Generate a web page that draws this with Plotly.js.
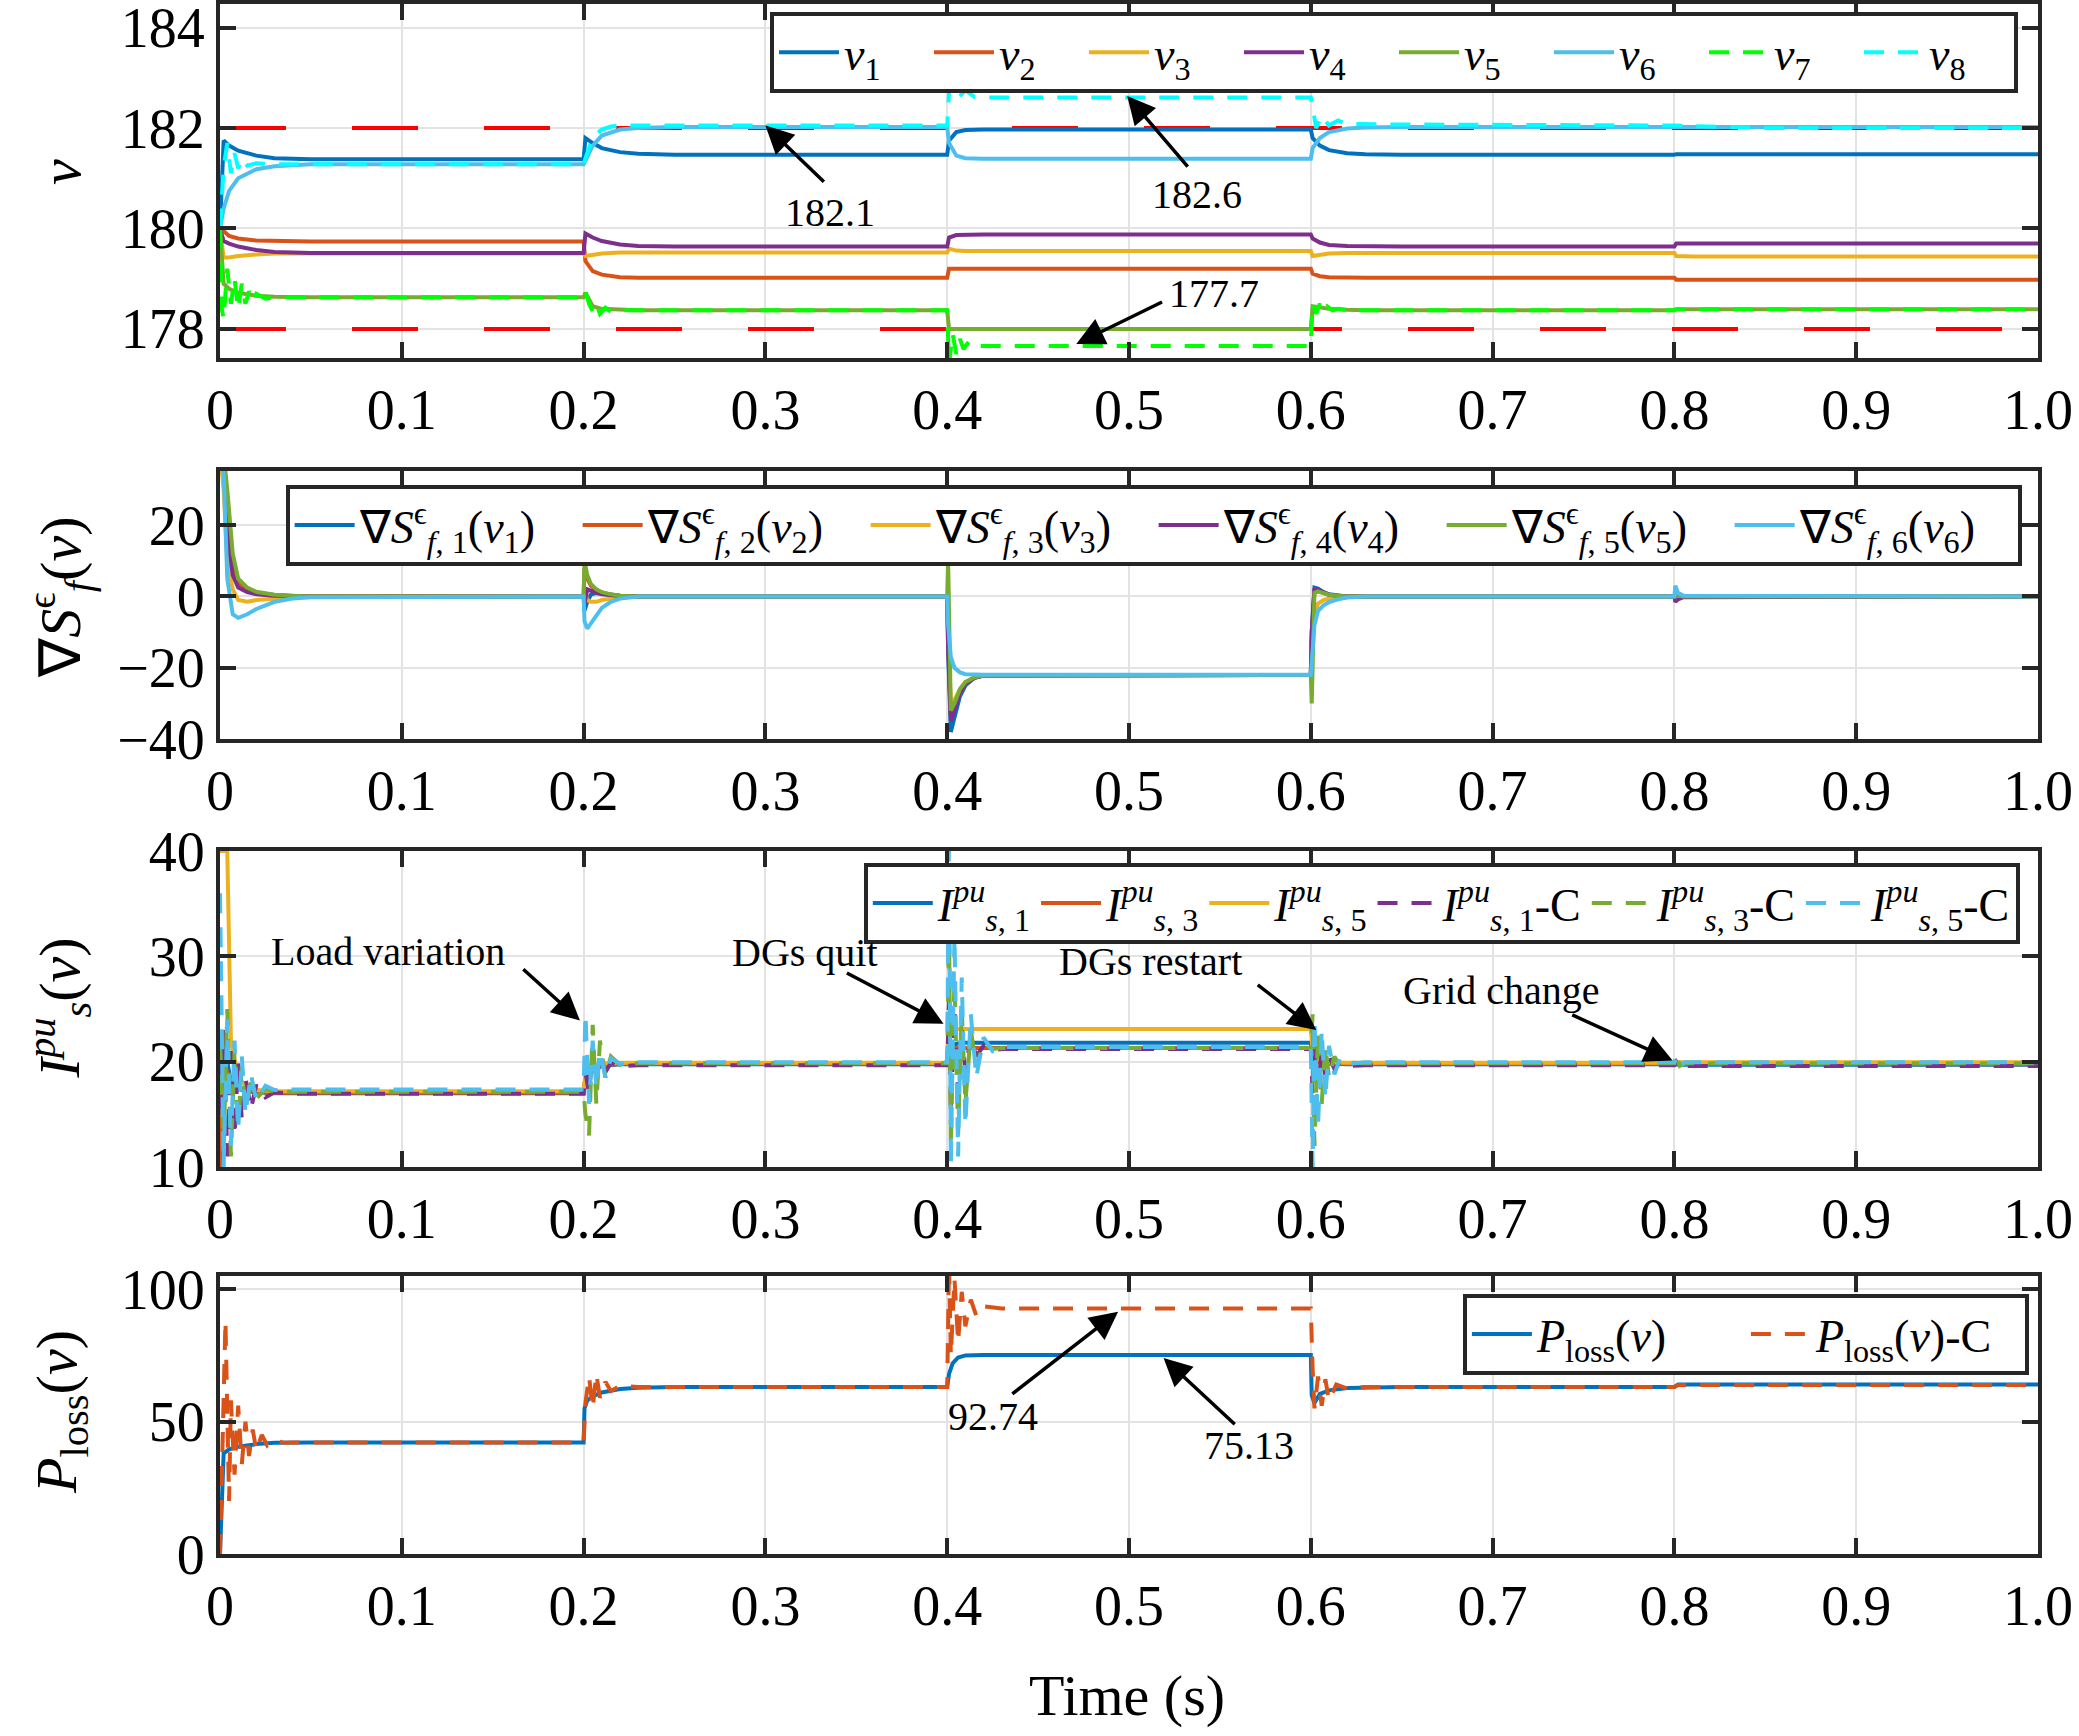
<!DOCTYPE html>
<html>
<head>
<meta charset="utf-8">
<script src="https://cdn.plot.ly/plotly-3.0.1.min.js"></script>
<style>
  html, body { margin: 0; padding: 0; background: #ffffff; }
  #chart { width: 2079px; height: 1736px; }
</style>
</head>
<body>
<div id="chart"></div>
<script>
// Time axis ticks (shared by all four panels)
var timeTicks = [0, 0.1, 0.2, 0.3, 0.4, 0.5, 0.6, 0.7, 0.8, 0.9, 1.0];
var timeTickText = ["0", "0.1", "0.2", "0.3", "0.4", "0.5", "0.6", "0.7", "0.8", "0.9", "1.0"];

// ---- Panel 1: voltages v ----
var vTicks = [178, 180, 182, 184];
var vLimits = [178, 182];
var vTime = [0, 0.002, 0.005, 0.01, 0.02, 0.03, 0.05, 0.2, 0.201, 0.205, 0.21, 0.22, 0.23, 0.25,
    0.4, 0.401, 0.405, 0.41, 0.42, 0.6, 0.601, 0.605, 0.61, 0.62, 0.63, 0.65, 0.8, 0.801, 0.81, 1.0];
var v1 = [180, 181.75, 181.65, 181.55, 181.45, 181.4, 181.38, 181.38, 181.8, 181.7, 181.6, 181.52, 181.49, 181.47,
    181.47, 181.75, 181.92, 181.96, 181.97, 181.97, 181.8, 181.65, 181.56, 181.5, 181.48, 181.47, 181.47, 181.48, 181.48, 181.48];
var v2 = [180, 179.95, 179.85, 179.8, 179.76, 179.75, 179.74, 179.74, 179.35, 179.15, 179.08, 179.03, 179.02, 179.02,
    179.02, 179.2, 179.2, 179.2, 179.2, 179.2, 179.1, 179.05, 179.03, 179.02, 179.02, 179.02, 179.02, 178.98, 178.98, 178.98];
var v3 = [180, 179.42, 179.42, 179.45, 179.48, 179.5, 179.5, 179.5, 179.45, 179.48, 179.5, 179.52, 179.52, 179.52,
    179.52, 179.6, 179.56, 179.55, 179.55, 179.55, 179.45, 179.48, 179.5, 179.51, 179.51, 179.51, 179.51, 179.45, 179.44, 179.44];
var v4 = [180, 179.75, 179.7, 179.64, 179.57, 179.53, 179.51, 179.51, 179.9, 179.82, 179.75, 179.68, 179.65, 179.64,
    179.64, 179.82, 179.87, 179.88, 179.88, 179.88, 179.8, 179.72, 179.67, 179.65, 179.64, 179.64, 179.64, 179.7, 179.7, 179.7];
var v5 = [180, 178.9, 178.8, 178.72, 178.66, 178.64, 178.63, 178.63, 178.72, 178.45, 178.4, 178.38, 178.37, 178.37,
    178.37, 178.0, 178.0, 178.0, 178.0, 178.0, 178.45, 178.42, 178.4, 178.38, 178.37, 178.37, 178.37, 178.39, 178.39, 178.39];
var v6 = [180, 180.4, 180.75, 181.0, 181.18, 181.24, 181.28, 181.28, 181.35, 181.65, 181.85, 181.97, 182.0, 182.02,
    182.02, 181.7, 181.45, 181.4, 181.39, 181.39, 181.6, 181.8, 181.92, 181.99, 182.01, 182.02, 182.02, 182.02, 182.02, 182.02];
var v7Time = [0, 0.001, 0.002, 0.004, 0.006, 0.008, 0.010, 0.012, 0.014, 0.016, 0.018, 0.02, 0.025, 0.03,
    0.2, 0.201, 0.203, 0.205, 0.207, 0.209, 0.212, 0.215, 0.22, 0.25,
    0.4, 0.401, 0.403, 0.405, 0.407, 0.409, 0.412, 0.415, 0.42,
    0.6, 0.601, 0.603, 0.605, 0.607, 0.609, 0.612, 0.615, 0.62, 0.65, 0.8, 0.801, 1.0];
var v7 = [180, 178.4, 178.2, 179.2, 178.5, 179.0, 178.4, 178.9, 178.5, 178.75, 178.55, 178.7, 178.6, 178.63,
    178.63, 178.75, 178.5, 178.35, 178.5, 178.3, 178.42, 178.34, 178.37, 178.37,
    178.37, 177.3, 177.9, 177.5, 177.8, 177.6, 177.75, 177.66, 177.66,
    177.66, 178.5, 178.3, 178.5, 178.35, 178.45, 178.37, 178.4, 178.37, 178.37, 178.37, 178.39, 178.39];
var v8Time = [0, 0.002, 0.004, 0.006, 0.008, 0.010, 0.012, 0.015, 0.02, 0.03, 0.05,
    0.2, 0.202, 0.205, 0.21, 0.215, 0.22, 0.25,
    0.4, 0.401, 0.403, 0.406, 0.41, 0.415, 0.42,
    0.6, 0.601, 0.603, 0.606, 0.61, 0.615, 0.62, 0.65, 0.8, 0.85, 1.0];
var v8 = [180, 181.2, 181.7, 181.1, 181.5, 181.2, 181.4, 181.25, 181.3, 181.28, 181.28,
    181.28, 181.5, 181.8, 181.97, 182.03, 182.05, 182.05,
    182.05, 182.7, 182.85, 182.6, 182.75, 182.62, 182.61,
    182.61, 182.4, 182.0, 182.25, 182.05, 182.15, 182.08, 182.07, 182.05, 182.0, 182.0];

// ---- Panel 2: gradients ----
var gTicks = [-40, -20, 0, 20];
var gTime = [0, 0.002, 0.004, 0.007, 0.01, 0.015, 0.02, 0.03, 0.04, 0.05,
    0.2, 0.2005, 0.202, 0.204, 0.207, 0.21, 0.215, 0.22, 0.23,
    0.4, 0.4005, 0.402, 0.404, 0.407, 0.41, 0.415, 0.42,
    0.6, 0.6005, 0.602, 0.604, 0.607, 0.61, 0.615, 0.62, 0.63,
    0.8, 0.8005, 0.802, 0.805, 1.0];
var g1 = [40, 40, 22, 9, 4, 2, 1, 0.4, 0.1, 0, 0, -4, -1.5, 0.5, 1, 0.8, 0.4, 0.2, 0,
    0, -15, -38, -34, -28, -25, -22.8, -22.2, -22, -10, 2.5, 2.2, 1.2, 0.6, 0.2, 0, 0, 0, 0.5, 0.4, 0.1, 0];
var g2 = [40, 40, 20, 8, 3.5, 1.8, 0.9, 0.3, 0.1, 0, 0, 8, 5, 3, 1.8, 1.1, 0.5, 0.2, 0,
    0, -12, -33, -31, -27, -24.5, -22.8, -22.2, -22, -12, 1.5, 1.6, 1, 0.5, 0.2, 0, 0, 0, 0.3, 0.2, 0, 0];
var g3 = [40, 30, 10, 2, -1, -1.5, -1, -0.5, -0.2, 0, 0, 2, -1, -1.5, -1.5, -1, -0.6, -0.3, 0,
    0, -10, -30, -29, -26, -24, -22.6, -22.1, -22, -15, -5, -2, -1, -0.6, -0.3, -0.1, 0, 0, 0.2, 0.1, 0, 0];
var g4 = [40, 40, 18, 6, 2.5, 1.2, 0.6, 0.2, 0.1, 0, 0, -2, 2, 1.5, 1, 0.6, 0.3, 0.1, 0,
    0, -14, -35, -32, -27, -24.5, -22.8, -22.2, -22, -10, 1.8, 1.8, 1.1, 0.5, 0.2, 0, 0, 0, -1.5, -0.8, -0.2, 0];
var g5 = [40, 40, 30, 12, 5, 2.5, 1.3, 0.5, 0.2, 0, 0, 10, 6, 3.5, 2, 1.2, 0.6, 0.2, 0,
    0, 10, -32, -30, -26, -24, -22.7, -22.2, -22, -30, 1, 1.4, 1, 0.5, 0.2, 0, 0, 0, 0.3, 0.2, 0, 0];
var g6 = [40, 35, 5, -5, -6, -5, -3.5, -1.5, -0.6, -0.2, 0, -7, -9, -7.5, -5, -3.2, -1.5, -0.6, 0,
    0, -8, -17, -20, -21.3, -21.8, -22, -22, -22, -18, -8, -4, -2.5, -1.6, -0.8, -0.3, 0, 0, 3, 1, 0.2, 0];

// ---- Panel 3: per-unit currents ----
var iTicks = [10, 20, 30, 40];
var iTime = [0, 0.002, 0.004, 0.006, 0.01, 0.015, 0.02, 0.03, 0.2, 0.201, 0.205, 0.21, 0.22,
    0.4, 0.401, 0.405, 0.41, 0.42, 0.6, 0.601, 0.605, 0.61, 0.62, 0.8, 0.802, 1.0];
var i1 = [10, 22, 20, 18, 17.5, 17.2, 17.1, 17.0, 17.0, 18.5, 19.2, 19.6, 19.75,
    19.75, 21, 21.7, 21.8, 21.8, 21.8, 20.5, 20, 19.8, 19.75, 19.75, 19.7, 19.7];
var i3 = [10, 20, 19, 18, 17.4, 17.2, 17.1, 17.05, 17.05, 18.5, 19.3, 19.6, 19.8,
    19.8, 21.5, 21.3, 21.3, 21.3, 21.3, 20.2, 19.9, 19.8, 19.8, 19.8, 19.75, 19.75];
var i5 = [40, 40, 40, 22, 18.5, 17.6, 17.3, 17.2, 17.2, 18.8, 19.5, 19.8, 19.9,
    19.9, 23.5, 23.1, 23.1, 23.1, 23.1, 21, 20.2, 19.95, 19.9, 19.9, 19.95, 19.95];
var icTime = [0, 0.002, 0.004, 0.006, 0.008, 0.010, 0.012, 0.014, 0.017, 0.02, 0.025, 0.03, 0.04,
    0.2, 0.201, 0.203, 0.205, 0.207, 0.209, 0.212, 0.215, 0.22, 0.23,
    0.4, 0.401, 0.402, 0.404, 0.406, 0.408, 0.41, 0.413, 0.416, 0.42, 0.425, 0.43,
    0.6, 0.601, 0.602, 0.604, 0.606, 0.608, 0.61, 0.613, 0.616, 0.62, 0.63,
    0.8, 0.801, 0.803, 0.806, 1.0];
var i1c = [15, 23, 11, 21, 13, 20, 14.5, 18.5, 15.5, 17.8, 16.6, 17.1, 16.95,
    16.95, 19, 17, 21, 18, 20.5, 19, 19.9, 19.6, 19.65,
    19.65, 26, 15, 25, 17, 23, 19, 22.5, 20.5, 21.5, 21.1, 21.2,
    21.2, 17, 22, 17.5, 21, 18.5, 20.5, 19.3, 19.9, 19.6, 19.65,
    19.65, 20, 19.5, 19.6, 19.6];
var i3c = [22, 12, 25, 11, 21, 14, 19.5, 15.5, 18, 16.5, 17.4, 17.15, 17.15,
    17.15, 15, 13, 23.5, 16, 22, 18.5, 20.5, 19.7, 19.85,
    19.85, 33, 12, 28, 13, 25, 16, 23, 19.5, 21.8, 21.2, 21.3,
    21.3, 24.5, 12, 23, 16, 21.5, 18.5, 20.5, 19.6, 19.9, 19.85,
    19.85, 20.8, 19.6, 19.85, 19.85];
var i5c = [36, 10, 24, 12, 22, 13.5, 20.5, 15, 18.8, 16.3, 17.7, 17.3, 17.35,
    17.35, 24.5, 16, 22, 17.5, 21, 18.5, 20.3, 19.8, 19.95,
    19.95, 42, 10, 32, 11, 28, 14, 24.5, 18.5, 22.3, 21, 21.4,
    21.4, 10, 24, 14, 23, 16.5, 21.5, 18.8, 20.3, 19.8, 19.95,
    19.95, 20.5, 19.7, 19.95, 19.95];

// ---- Panel 4: power loss ----
var pTicks = [0, 50, 100];
var pTime = [0, 0.001, 0.002, 0.005, 0.01, 0.02, 0.03, 0.05,
    0.2, 0.2005, 0.202, 0.205, 0.21, 0.22, 0.23, 0.25,
    0.4, 0.401, 0.403, 0.406, 0.41, 0.42,
    0.6, 0.6005, 0.602, 0.605, 0.61, 0.62, 0.65, 0.8, 0.802, 1.0];
var pLoss = [0, 25, 38, 39.5, 40.5, 41.5, 42, 42.1,
    42.1, 55, 58, 59.5, 61, 62.3, 62.8, 63.1,
    63.1, 68, 72, 74.2, 75, 75.13,
    75.13, 60, 57, 60.5, 61.8, 62.7, 63.1, 63.1, 64, 64];
var pcTime = [0, 0.002, 0.003, 0.005, 0.006, 0.008, 0.01, 0.012, 0.014, 0.016, 0.018, 0.02, 0.023, 0.026, 0.03, 0.035, 0.04,
    0.2, 0.201, 0.203, 0.205, 0.207, 0.209, 0.212, 0.215, 0.22, 0.23,
    0.4, 0.401, 0.402, 0.404, 0.406, 0.408, 0.41, 0.413, 0.416, 0.42, 0.43,
    0.6, 0.601, 0.602, 0.604, 0.606, 0.608, 0.61, 0.614, 0.62, 0.63,
    0.8, 0.802, 1.0];
var pLossC = [0, 60, 88, 20, 58, 30, 56, 34, 50, 37, 47, 39, 45, 41, 43, 42, 42.1,
    42.1, 57, 67, 55, 68, 59, 65, 61.5, 63.5, 63.1,
    63.1, 110, 75, 104, 80, 99, 86, 96, 90, 93.5, 92.74,
    92.74, 70, 55, 67, 56, 66, 58, 64, 62.5, 63.1,
    63.1, 63.8, 63.8];

// MATLAB default line colours
var colors = ["#0072BD", "#D95319", "#EDB120", "#7E2F8E", "#77AC30", "#4DBEEE"];
var font = "Liberation Serif, Times New Roman, serif";
var lw = 4;
var dashed = "20px,14px";

function line(x, y, name, color, ax, legend, dash) {
    return {
        x: x, y: y, name: name, type: "scatter", mode: "lines",
        xaxis: "x" + ax, yaxis: "y" + ax, legend: legend,
        line: { color: color, width: lw, dash: dash || "solid" }
    };
}

function voltageTraces() {
    var traces = [];
    for (var i = 0; i < vLimits.length; i++) {
        traces.push({
            x: [0, 1], y: [vLimits[i], vLimits[i]], type: "scatter", mode: "lines",
            xaxis: "x", yaxis: "y", showlegend: false, hoverinfo: "skip",
            line: { color: "#FF0000", width: 4, dash: "66px,66px" }
        });
    }
    var vs = [v1, v2, v3, v4, v5, v6];
    for (i = 0; i < vs.length; i++) {
        traces.push(line(vTime, vs[i], "<i>v</i><sub>" + (i + 1) + "</sub>", colors[i], "", "legend"));
    }
    traces.push(line(v7Time, v7, "<i>v</i><sub>7</sub>", "#00FF00", "", "legend", dashed));
    traces.push(line(v8Time, v8, "<i>v</i><sub>8</sub>", "#00FFFF", "", "legend", dashed));
    return traces;
}

function gradientTraces() {
    var gs = [g1, g2, g3, g4, g5, g6];
    var traces = [];
    for (var i = 0; i < gs.length; i++) {
        var name = "∇<i>S</i><sup>ϵ</sup><sub><i>f</i>, " + (i + 1) + "</sub>(<i>v</i><sub>" + (i + 1) + "</sub>)";
        traces.push(line(gTime, gs[i], name, colors[i], "2", "legend2"));
    }
    return traces;
}

function currentTraces() {
    var traces = [];
    var solid = [i1, i3, i5];
    var cons = [i1c, i3c, i5c];
    var ids = [1, 3, 5];
    var solidColors = [colors[0], colors[1], colors[2]];
    var dashColors = [colors[3], colors[4], colors[5]];
    for (var i = 0; i < 3; i++) {
        traces.push(line(iTime, solid[i], "<i>I</i><sup><i>pu</i></sup><sub><i>s</i>, " + ids[i] + "</sub>",
            solidColors[i], "3", "legend3"));
    }
    for (i = 0; i < 3; i++) {
        traces.push(line(icTime, cons[i], "<i>I</i><sup><i>pu</i></sup><sub><i>s</i>, " + ids[i] + "</sub>-C",
            dashColors[i], "3", "legend3", dashed));
    }
    return traces;
}

function lossTraces() {
    return [
        line(pTime, pLoss, "<i>P</i><sub>loss</sub>(<i>v</i>)", colors[0], "4", "legend4"),
        line(pcTime, pLossC, "<i>P</i><sub>loss</sub>(<i>v</i>)-C", colors[1], "4", "legend4", dashed)
    ];
}

function xAxis(anchor) {
    return {
        domain: [0, 1], anchor: anchor, range: [0, 1],
        tickvals: timeTicks, ticktext: timeTickText, ticklabeloverflow: "allow",
        ticks: "inside", ticklen: 16, tickwidth: 4, tickcolor: "#262626",
        showline: true, linewidth: 4, linecolor: "#262626", mirror: "ticks",
        showgrid: true, gridcolor: "#e3e3e3", gridwidth: 2, zeroline: false,
        tickfont: { family: font, size: 56, color: "#000" }
    };
}

function yAxis(anchor, domain, range, ticks) {
    return {
        domain: domain, anchor: anchor, range: range, tickvals: ticks, ticklabeloverflow: "allow",
        ticks: "inside", ticklen: 16, tickwidth: 4, tickcolor: "#262626",
        showline: true, linewidth: 4, linecolor: "#262626", mirror: "ticks",
        showgrid: true, gridcolor: "#e3e3e3", gridwidth: 2, zeroline: false,
        tickfont: { family: font, size: 56, color: "#000" }
    };
}

function legendBox(x, y, entrywidth) {
    return {
        orientation: "h", x: x, y: y, xanchor: "right", yanchor: "top",
        bgcolor: "#ffffff", bordercolor: "#262626", borderwidth: 4,
        font: { family: font, size: 46, color: "#000" },
        itemwidth: 60, entrywidth: entrywidth, tracegroupgap: 0
    };
}

function label(text, x, y, xref, yref) {
    return {
        text: text, x: x, y: y, xref: xref, yref: yref, showarrow: false,
        font: { family: font, size: 40, color: "#000" }
    };
}

function arrow(x, y, ax, ay, xref, yref) {
    return {
        text: "", x: x, y: y, ax: ax, ay: ay, xref: xref, yref: yref, axref: xref, ayref: yref,
        showarrow: true, arrowhead: 2, arrowsize: 1.6, arrowwidth: 3.5, arrowcolor: "#000"
    };
}

function axisTitle(text, x, y, angle) {
    return {
        text: text, x: x, y: y, xref: "paper", yref: "paper", showarrow: false,
        textangle: angle, xanchor: "center", yanchor: "middle",
        font: { family: font, size: 58, color: "#000" }
    };
}

var traces = [].concat(voltageTraces(), gradientTraces(), currentTraces(), lossTraces());

var layout = {
    width: 2079, height: 1736,
    margin: { l: 220, r: 41, t: 4, b: 182 },
    paper_bgcolor: "#ffffff", plot_bgcolor: "#ffffff",
    font: { family: font, color: "#000" },
    xaxis: xAxis("y"), xaxis2: xAxis("y2"), xaxis3: xAxis("y3"), xaxis4: xAxis("y4"),
    yaxis: yAxis("x", [0.7716, 1], [177.42, 184.47], vTicks),
    yaxis2: yAxis("x2", [0.5258, 0.6987], [-40, 35.2], gTicks),
    yaxis3: yAxis("x3", [0.2497, 0.4535], [10, 40], iTicks),
    yaxis4: yAxis("x4", [0, 0.1794], [0, 105], pTicks),
    legend: legendBox(0.989, 0.995, 80),
    legend2: legendBox(0.991, 0.690, 213),
    legend3: legendBox(0.990, 0.446, 0),
    legend4: legendBox(0.995, 0.168, 204),
    annotations: [
        axisTitle("<i>v</i>", -0.088, 0.8916, -90),
        axisTitle("∇<i>S</i><sup>ϵ</sup><sub><i>f</i></sub>(<i>v</i>)", -0.088, 0.617, -90),
        axisTitle("<i>I</i><sup><i>pu</i></sup><sub><i>s</i></sub>(<i>v</i>)", -0.088, 0.352, -90),
        axisTitle("<i>P</i><sub>loss</sub>(<i>v</i>)", -0.088, 0.0916, -90),
        axisTitle("Time (s)", 0.499, -0.091, 0),
        label("182.1", 0.3355, 180.32, "x", "y"),
        arrow(0.30, 182.05, 0.333, 180.9, "x", "y"),
        label("182.6", 0.5376, 180.68, "x", "y"),
        arrow(0.499, 182.64, 0.533, 181.2, "x", "y"),
        label("177.7", 0.547, 178.7, "x", "y"),
        arrow(0.471, 177.7, 0.519, 178.55, "x", "y"),
        label("Load variation", 0.0926, 30.5, "x3", "y3"),
        arrow(0.198, 23.9, 0.166, 28.9, "x3", "y3"),
        label("DGs quit", 0.322, 30.4, "x3", "y3"),
        arrow(0.398, 23.6, 0.344, 28.5, "x3", "y3"),
        label("DGs restart", 0.512, 29.5, "x3", "y3"),
        arrow(0.603, 23.0, 0.570, 27.4, "x3", "y3"),
        label("Grid change", 0.705, 26.8, "x3", "y3"),
        arrow(0.799, 20.1, 0.743, 24.5, "x3", "y3"),
        label("92.74", 0.425, 52, "x4", "y4"),
        arrow(0.494, 91.5, 0.435, 60, "x4", "y4"),
        label("75.13", 0.566, 41, "x4", "y4"),
        arrow(0.519, 74, 0.559, 48.5, "x4", "y4")
    ]
};

Plotly.newPlot("chart", traces, layout, { staticPlot: true });
</script>
</body>
</html>
